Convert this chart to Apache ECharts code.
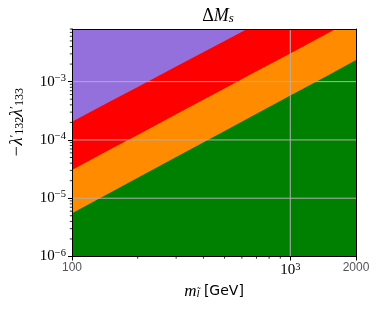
<!DOCTYPE html>
<html><head><meta charset="utf-8">
<script src="https://cdn.jsdelivr.net/npm/echarts@6/dist/echarts.min.js"></script>
<style>html,body{margin:0;padding:0;background:#fff}#c{width:380px;height:311px}</style>
</head><body><div id="c"></div>
<script>
// slepton masses (GeV) where boundaries were read
const masses = [100, 150, 200, 300, 500, 700, 1000, 1500, 2000];
// upper edge of each coloured region (value of -λ'132 λ'133)
const greenUpper  = [5.5e-6, 1.25e-5, 2.25e-5, 5.1e-5, 1.42e-4, 2.8e-4, 5.8e-4, 1.3e-3, 2.35e-3];
const orangeUpper = [3.05e-5, 6.9e-5, 1.22e-4, 2.75e-4, 7.6e-4, 1.5e-3, 3.05e-3, 6.9e-3, 1.22e-2];
const redUpper    = [2.06e-4, 4.6e-4, 8.1e-4, 1.82e-3, 5.0e-3, 9.7e-3, 1.95e-2, 4.3e-2, 7.6e-2];

const xMin = 100, xMax = 2000, yMin = 1e-6, yMax = 8e-3;
const xTickLabels = {100: '100', 1000: '{b|10}{s|3}', 2000: '2000'};
const yTickLabels = {'-6': '{b|10}{s|−6}', '-5': '{b|10}{s|−5}', '-4': '{b|10}{s|−4}', '-3': '{b|10}{s|−3}'};
const xGrid = [1000];
const yGrid = [1e-5, 1e-4, 1e-3];
const xMinor = [200, 300, 400, 500, 600, 700, 800, 900];
const yMinor = [2e-6,3e-6,4e-6,5e-6,6e-6,7e-6,8e-6,9e-6,
                2e-5,3e-5,4e-5,5e-5,6e-5,7e-5,8e-5,9e-5,
                2e-4,3e-4,4e-4,5e-4,6e-4,7e-4,8e-4,9e-4,
                2e-3,3e-3,4e-3,5e-3,6e-3,7e-3,8e-3];

const SERIF = 'Liberation Serif';
const labRich = {
  b: {fontFamily: SERIF, fontSize: 15, lineHeight: 18, color: '#000'},
  s: {fontFamily: SERIF, fontSize: 10.5, lineHeight: 10, verticalAlign: 'top', color: '#000'}
};
const pairs = arr => masses.map((m, i) => [m, arr[i]]);
const area = (name, arr, color) => ({
  name, type: 'line', data: pairs(arr), symbol: 'none', silent: true,
  lineStyle: {width: 0}, areaStyle: {color, opacity: 1, origin: 'start'},
  itemStyle: {color}, clip: true, animation: false
});

const minorData = xMinor.map(v => [v, yMin, 0]).concat(yMinor.map(v => [xMin, v, 1]));
const gridData = xGrid.map(v => [v, yMin, 0]).concat(yGrid.map(v => [xMin, v, 1]));

const option = {
  animation: false,
  backgroundColor: '#fff',
  title: {
    text: '{n|Δ}{i|M}{s|s}', left: 213, top: 2, textAlign: 'center',
    textStyle: {rich: {
      n: {fontFamily: SERIF, fontWeight: 'normal', fontSize: 18, color: '#000'},
      i: {fontFamily: SERIF, fontWeight: 'normal', fontStyle: 'italic', fontSize: 18, color: '#000'},
      s: {fontFamily: SERIF, fontWeight: 'normal', fontStyle: 'italic', fontSize: 13, color: '#000', verticalAlign: 'bottom', lineHeight: 10}
    }}
  },
  grid: {left: 70, right: 24, top: 29, bottom: 54.5, show: true, backgroundColor: '#9370DB', borderWidth: 0},
  xAxis: [{
    type: 'log', logBase: 10, min: xMin, max: xMax, z: 10,
    axisLine: {lineStyle: {color: '#000', width: 1}},
    axisTick: {inside: false, length: 4, lineStyle: {color: '#000'}},
    splitLine: {show: false},
    axisLabel: {margin: 5, showMinLabel: true, showMaxLabel: true,
      formatter: v => xTickLabels[Math.round(v)] || '', rich: labRich},
    name: '{i|m}{sub|l̃}{g| [GeV]}', nameLocation: 'middle', nameGap: 21,
    nameTextStyle: {rich: {
      i: {fontFamily: SERIF, fontStyle: 'italic', fontSize: 17, color: '#000'},
      sub: {fontFamily: SERIF, fontStyle: 'italic', fontSize: 11, color: '#000', verticalAlign: 'bottom', lineHeight: 12},
      g: {fontFamily: 'DejaVu Sans', fontSize: 14, color: '#000'}
    }}
  }, {
    type: 'log', position: 'top', min: xMin, max: xMax, z: 10,
    axisLine: {lineStyle: {color: '#000', width: 1}},
    axisTick: {show: false}, axisLabel: {show: false}, splitLine: {show: false}
  }],
  yAxis: [{
    type: 'log', logBase: 10, min: yMin, max: yMax, z: 10,
    axisLine: {lineStyle: {color: '#000', width: 1}},
    axisTick: {inside: false, length: 4, lineStyle: {color: '#000'}},
    splitLine: {show: false},
    axisLabel: {margin: 6, showMinLabel: true, showMaxLabel: false,
      formatter: v => yTickLabels[String(Math.round(Math.log10(v) * 1000) / 1000)] || '', rich: labRich},
    name: '{sp| }{i|−λ}{p|′}{b|132}{i|λ}{p|′}{b|133}', nameLocation: 'middle', nameGap: 46, nameRotate: 90,
    nameTextStyle: {rich: {
      sp: {width: 40, fontSize: 10},
      i: {fontFamily: SERIF, fontStyle: 'italic', fontSize: 18, color: '#000'},
      p: {fontFamily: SERIF, fontSize: 13, color: '#000', verticalAlign: 'top', lineHeight: 8},
      b: {fontFamily: SERIF, fontSize: 12, color: '#000', verticalAlign: 'bottom', lineHeight: 10}
    }}
  }, {
    type: 'log', position: 'right', min: yMin, max: yMax, z: 10,
    axisLine: {lineStyle: {color: '#000', width: 1}},
    axisTick: {show: false}, axisLabel: {show: false}, splitLine: {show: false}
  }],
  series: [
    area('red', redUpper, '#FF0000'),
    area('orange', orangeUpper, '#FF8C00'),
    area('green', greenUpper, '#008000'),
    {
      type: 'custom', data: gridData, clip: true, silent: true, z: 5,
      encode: {x: 0, y: 1},
      renderItem: (params, api) => {
        const vertical = api.value(2) === 0;
        const a = vertical ? api.coord([api.value(0), yMin]) : api.coord([xMin, api.value(1)]);
        const b = vertical ? api.coord([api.value(0), yMax]) : api.coord([xMax, api.value(1)]);
        return {type: 'line', shape: {x1: a[0], y1: a[1], x2: b[0], y2: b[1]},
          style: {stroke: '#b0b0b0', lineWidth: 1}};
      }
    },
    {
      type: 'custom', data: minorData, clip: false, silent: true, z: 10,
      encode: {x: 0, y: 1},
      renderItem: (params, api) => {
        const p = api.coord([api.value(0), api.value(1)]);
        const vertical = api.value(2) === 0;
        const shape = vertical
          ? {x1: p[0], y1: p[1], x2: p[0], y2: p[1] + 2.2}
          : {x1: p[0] - 2.2, y1: p[1], x2: p[0], y2: p[1]};
        return {type: 'line', shape, style: {stroke: '#000', lineWidth: 0.8}};
      }
    }
  ]
};
const chart = echarts.init(document.getElementById('c'), null, {renderer: 'canvas'});
chart.setOption(option);
</script></body></html>
